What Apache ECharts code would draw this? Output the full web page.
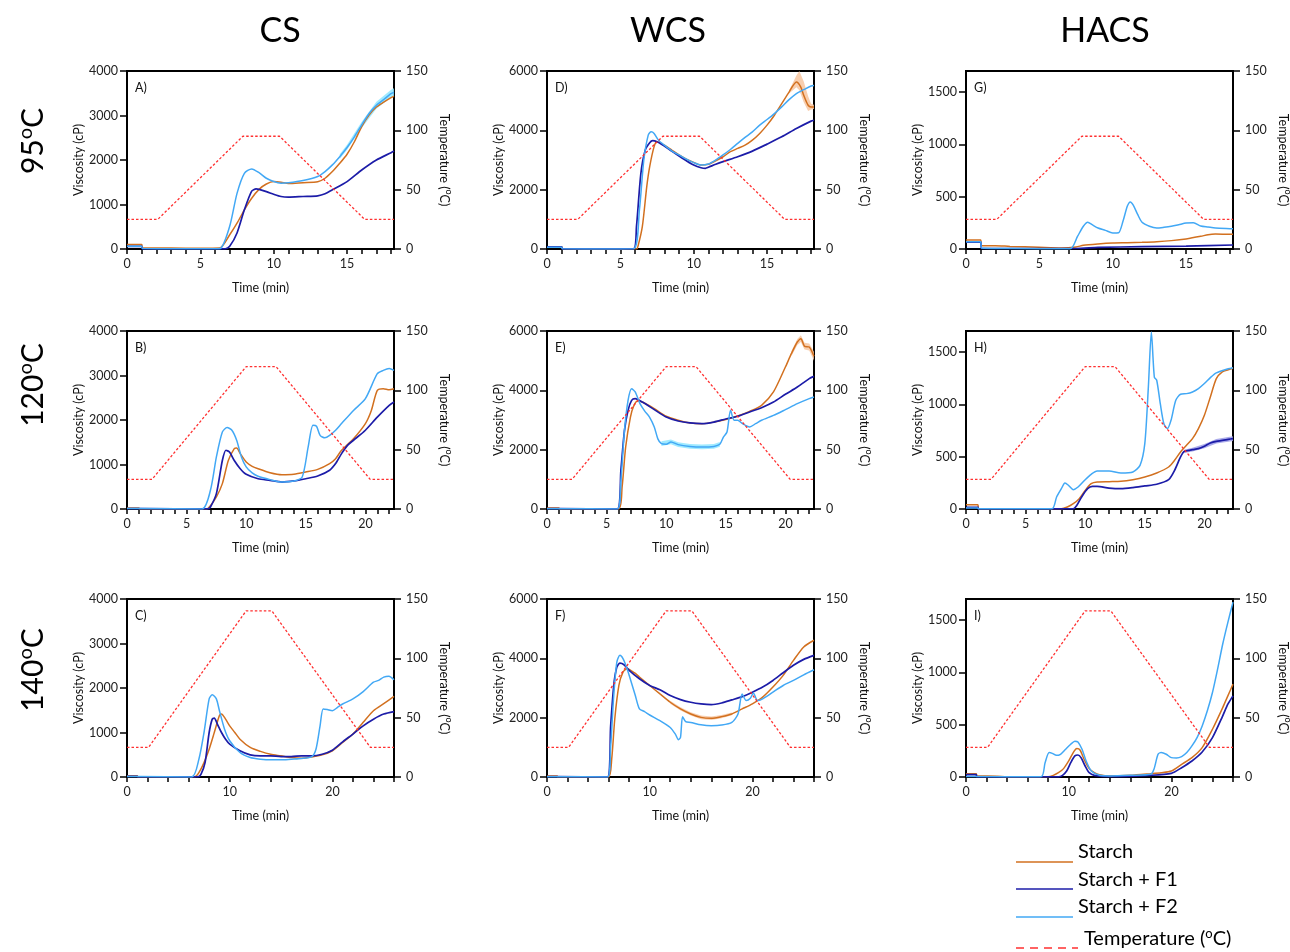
<!DOCTYPE html>
<html>
<head>
<meta charset="utf-8">
<title>Pasting profiles</title>
<script src="https://cdn.jsdelivr.net/npm/echarts@6/dist/echarts.min.js"></script>
<style>
  html, body { margin: 0; padding: 0; background: #fff; }
  #chart { width: 1290px; height: 952px; }
</style>
</head>
<body>
<div id="chart"></div>
<script>
// ---- data: [time (min), value] ----
var temp95  = [[0,25],[2.1,25],[7.9,95],[10.4,95],[16.2,25],[18.2,25]];
var temp120 = [[0,25],[2.1,25],[10,120],[12.5,120],[20.4,25],[22.4,25]];
var temp140 = [[0,25],[2.1,25],[11.6,140],[14.1,140],[23.7,25],[26,25]];

// CS 95
var starchA = [[0,100],[1,100],[1.05,25],[3,20],[5,15],[6.3,20],[7,320],[7.5,580],[8,880],[8.5,1140],[9,1340],[9.5,1460],[10,1515],[10.5,1500],[11,1470],[12,1490],[13,1510],[13.5,1590],[14,1740],[14.5,1925],[15,2130],[15.5,2410],[16,2750],[16.5,3010],[17,3190],[17.5,3300],[18,3400],[18.2,3430]];
var f1A = [[0,60],[1,60],[1.05,5],[4,3],[6.7,5],[7,60],[7.5,360],[8,880],[8.5,1300],[8.8,1350],[9,1340],[9.5,1290],[10,1230],[10.5,1180],[11,1165],[12,1180],[13,1195],[13.5,1240],[14,1330],[15,1515],[16,1775],[17,2000],[18,2165],[18.2,2200]];
var f2A = [[0,60],[1,60],[1.05,10],[3,8],[6,5],[6.4,20],[7,510],[7.5,1250],[8,1700],[8.5,1800],[9,1715],[9.5,1590],[10,1515],[10.5,1480],[11,1490],[12,1540],[13,1630],[13.5,1740],[14,1890],[14.5,2075],[15,2280],[15.5,2520],[16,2790],[16.5,3045],[17,3230],[17.5,3360],[18,3490],[18.2,3520]];
// CS 120
var starchB = [[0,20],[1,20],[1.05,2],[6.7,2],[7,75],[7.5,270],[8,570],[8.5,1090],[9,1355],[9.2,1370],[9.5,1245],[10,1055],[10.5,960],[11,905],[12,815],[13,770],[14,780],[15,830],[16,890],[17,1020],[17.5,1130],[18,1320],[19,1580],[20,1920],[20.5,2215],[21,2665],[21.5,2705],[22,2680],[22.4,2700]];
var f1B = [[0,10],[1,10],[1.05,2],[6.8,2],[7,45],[7.5,345],[8,1090],[8.3,1320],[8.6,1280],[9,1090],[9.5,905],[10,780],[11,680],[12,645],[13,605],[14,630],[15,680],[16,740],[17,870],[17.5,1020],[18,1245],[18.5,1430],[19,1545],[20,1770],[21,2065],[22,2330],[22.4,2405]];
var f2B = [[0,10],[1,10],[1.05,2],[6.3,2],[7,420],[7.5,1170],[8,1730],[8.4,1830],[8.8,1770],[9.2,1545],[9.6,1170],[10,945],[10.5,810],[11,735],[12,660],[13,605],[14,630],[14.7,720],[15.2,1395],[15.6,1880],[15.9,1860],[16.2,1655],[16.6,1600],[17,1655],[17.5,1770],[18,1920],[19,2215],[20,2480],[21,3040],[21.5,3115],[22,3155],[22.4,3115]];
// CS 140
var starchC = [[0,30],[1,30],[1.05,8],[4,5],[6.6,5],[7,98],[7.5,324],[8,625],[8.5,1000],[9,1380],[9.2,1415],[9.6,1300],[10,1150],[10.5,1000],[11,850],[12,665],[13,575],[14,510],[15,475],[16,437],[17,420],[18,450],[19,497],[20,590],[21,775],[22,965],[23,1230],[24,1490],[25,1650],[26,1810]];
var f1C = [[0,15],[1,15],[1.05,2],[6.9,2],[7.2,60],[7.6,324],[8,1000],[8.3,1300],[8.5,1325],[8.8,1190],[9.2,1000],[9.6,850],[10,740],[11,590],[12,497],[13,475],[14,475],[15,460],[16,460],[17,475],[18,475],[19,512],[20,603],[21,790],[22,965],[23,1150],[24,1300],[25,1415],[26,1470]];
var f2C = [[0,10],[1,10],[1.05,2],[6.3,2],[7,400],[7.5,1000],[8,1755],[8.3,1850],[8.7,1755],[9,1490],[9.5,1075],[10,815],[11,550],[12,437],[13,400],[14,385],[15,385],[16,400],[17,415],[18,460],[18.4,625],[18.8,1150],[19.1,1530],[19.5,1515],[20,1490],[20.5,1565],[21,1640],[22,1755],[23,1920],[24,2130],[24.5,2170],[25,2245],[25.5,2265],[26,2185]];
// WCS 95
var starchD = [[0,80],[1,80],[1.05,5],[4,3],[6.1,5],[6.2,90],[6.5,760],[6.8,2100],[7,2775],[7.3,3450],[7.5,3615],[8,3500],[8.5,3335],[9,3170],[9.5,3030],[10,2920],[10.5,2830],[11,2855],[11.5,2975],[12,3110],[12.5,3280],[13,3390],[13.5,3500],[14,3670],[14.5,3895],[15,4175],[15.5,4510],[16,4900],[16.5,5290],[17,5630],[17.3,5460],[17.5,5180],[17.8,4845],[18,4790],[18.2,4790]];
var f1D = [[0,70],[1,70],[1.05,5],[4,3],[5.9,5],[6.1,760],[6.4,2550],[6.7,3335],[7,3580],[7.2,3650],[7.5,3615],[8,3470],[8.5,3300],[9,3135],[9.5,2975],[10,2830],[10.5,2740],[10.8,2720],[11,2755],[11.5,2855],[12,2945],[13,3110],[14,3300],[15,3535],[16,3780],[17,4060],[18,4310],[18.2,4340]];
var f2D = [[0,60],[1,60],[1.05,5],[4,3],[5.9,5],[6.3,1320],[6.6,3000],[6.9,3840],[7.1,3950],[7.3,3895],[7.6,3670],[8,3500],[8.5,3310],[9,3170],[9.5,3030],[10,2910],[10.5,2830],[11,2865],[11.5,3000],[12,3170],[12.5,3355],[13,3560],[13.5,3760],[14,3950],[14.5,4175],[15,4365],[15.5,4565],[16,4790],[16.5,5035],[17,5240],[17.5,5370],[18,5495],[18.2,5510]];
// WCS 120
var starchE = [[0,30],[1,30],[1.05,2],[6,2],[6.3,740],[6.6,2090],[7,3100],[7.3,3495],[7.6,3640],[8,3605],[9,3380],[10,3125],[11,2990],[12,2900],[13,2875],[14,2930],[15,3020],[16,3135],[17,3290],[18,3495],[19,3945],[20,4785],[20.5,5235],[21,5630],[21.3,5740],[21.6,5485],[22,5460],[22.4,5150]];
var f1E = [[0,10],[1,10],[1.05,2],[5.9,2],[6.2,1305],[6.5,2650],[6.8,3325],[7.1,3660],[7.4,3720],[8,3605],[9,3350],[10,3100],[11,2965],[12,2900],[13,2875],[14,2930],[15,3035],[16,3125],[17,3270],[18,3415],[19,3605],[20,3865],[21,4110],[22,4395],[22.4,4470]];
var f2E = [[0,10],[1,10],[1.05,2],[5.9,2],[6.2,965],[6.5,2650],[6.8,3660],[7.1,4055],[7.4,3945],[7.8,3550],[8.2,3300],[8.6,3100],[9,2765],[9.3,2365],[9.6,2200],[10,2180],[10.4,2260],[11,2170],[12,2110],[13,2090],[14,2110],[14.5,2180],[14.8,2425],[15.1,2595],[15.4,3325],[15.7,2990],[16,2990],[16.4,2875],[17,2765],[17.5,2875],[18,2990],[19,3155],[20,3350],[21,3550],[22,3720],[22.4,3775]];
// WCS 140
var starchF = [[0,30],[1,30],[1.05,5],[4.5,3],[6,3],[6.3,600],[6.6,1955],[7,3085],[7.4,3535],[7.8,3650],[8.5,3515],[9,3370],[10,3085],[11,2800],[12,2520],[13,2295],[14,2125],[15,2010],[16,1980],[17,2035],[18,2125],[19,2295],[20,2465],[21,2690],[22,3030],[23,3425],[24,3930],[25,4385],[26,4610]];
var f1F = [[0,10],[1,10],[1.05,2],[5.9,2],[6.2,1730],[6.5,3085],[6.8,3705],[7.1,3840],[7.5,3785],[8,3595],[9,3310],[10,3085],[11,2940],[12,2745],[13,2610],[14,2520],[15,2465],[16,2440],[17,2495],[18,2600],[19,2710],[20,2860],[21,3030],[22,3255],[23,3515],[24,3765],[25,3965],[26,4100]];
var f2F = [[0,10],[1,10],[1.05,2],[5.9,2],[6.2,1050],[6.5,2745],[6.8,3875],[7.1,4100],[7.4,3990],[7.8,3650],[8.2,3200],[8.6,2745],[9,2295],[9.5,2205],[10,2090],[11,1900],[12,1670],[12.5,1445],[12.8,1255],[13,1335],[13.2,2030],[13.5,1865],[14,1840],[15,1760],[16,1730],[17,1750],[18,1840],[18.6,2125],[19,2800],[19.4,2575],[19.8,2655],[20.1,2835],[20.5,2575],[21,2635],[22,2860],[23,3085],[24,3255],[25,3445],[26,3615]];
// HACS 95
var starchG = [[0,85],[1,85],[1.05,30],[2,32],[3,25],[5,16],[6.5,10],[7.5,19],[8,35],[9,48],[10,57],[11,60],[12,64],[13,70],[14,80],[15,96],[16,121],[16.5,137],[17,143],[18,140],[18.2,140]];
var f1G = [[0,65],[1,65],[1.05,5],[7.5,5],[9,15],[12,22],[15,28],[18.2,38]];
var f2G = [[0,70],[1,70],[1.05,10],[3,5],[7.1,2],[7.6,120],[8,217],[8.3,255],[8.6,232],[9,200],[9.5,178],[10,153],[10.4,155],[10.7,264],[11,410],[11.2,450],[11.4,420],[11.7,330],[12,255],[12.5,217],[13,200],[13.5,207],[14,217],[14.5,232],[15,248],[15.5,250],[16,220],[16.5,210],[17,200],[18,194],[18.2,193]];
// HACS 120
var starchH = [[0,40],[1,40],[1.05,2],[8,2],[8.5,19],[9,51],[9.5,99],[10,178],[10.5,242],[11,258],[12,261],[13,264],[14,280],[15,306],[16,344],[17,401],[17.5,465],[18,545],[18.5,608],[19,672],[19.5,768],[20,895],[20.5,1070],[21,1245],[21.5,1310],[22,1330],[22.4,1345]];
var f1H = [[0,15],[1,15],[1.05,2],[9,2],[9.3,35],[9.7,115],[10.2,194],[10.6,217],[11,217],[12,200],[13,194],[14,204],[15,220],[16,236],[17,280],[17.5,369],[18,497],[18.3,551],[18.7,560],[19,567],[19.5,576],[20,599],[20.5,630],[21,646],[22,665],[22.4,672]];
var f2H = [[0,10],[1,10],[1.05,2],[7.2,2],[7.6,115],[8,194],[8.3,248],[8.6,226],[9,185],[9.4,210],[10,280],[10.5,331],[11,363],[12,363],[13,344],[14,354],[14.6,417],[15,624],[15.3,1166],[15.55,1690],[15.8,1260],[16,1230],[16.3,1006],[16.6,815],[16.9,768],[17.2,847],[17.6,1038],[18,1096],[18.5,1102],[19,1118],[19.5,1150],[20,1198],[20.5,1255],[21,1300],[22,1340],[22.4,1350]];
// HACS 140
var starchI = [[0,32],[1,32],[1.05,10],[3,8],[4,2],[8,2],[8.5,16],[9,41],[9.5,80],[10,153],[10.5,242],[10.8,271],[11.1,258],[11.5,169],[12,80],[12.5,41],[13,22],[14,10],[16,16],[18,32],[19,41],[20,57],[21,121],[22,185],[23,281],[24,456],[25,663],[25.5,775],[26,887]];
var f1I = [[0,22],[1,22],[1.05,2],[9,2],[9.4,16],[9.8,57],[10.2,137],[10.6,201],[10.9,210],[11.2,185],[11.6,105],[12,41],[12.5,16],[14,3],[18,16],[20,35],[21,89],[22,153],[23,239],[24,376],[25,584],[25.5,695],[26,775]];
var f2I = [[0,5],[7.3,2],[7.7,137],[8.1,233],[8.4,226],[8.8,207],[9.2,217],[9.7,265],[10.2,313],[10.6,341],[10.9,335],[11.3,265],[11.7,153],[12.2,57],[13,16],[14,10],[16,16],[18,26],[18.3,73],[18.7,217],[19,233],[19.5,217],[20,185],[20.5,182],[21,195],[21.5,233],[22,297],[22.5,376],[23,488],[23.5,632],[24,807],[24.5,1030],[25,1270],[25.5,1477],[26,1670]];

// error bands: [time, low, high]
var bandA = [[14.5,2020,2130],[15,2230,2340],[16,2720,2860],[17,3150,3310],[18,3410,3580],[18.2,3430,3610]];
var bandD = [[16.5,5240,5340],[17,5450,5850],[17.2,5350,6000],[17.5,4950,5650],[17.8,4650,5150],[18,4700,4900],[18.2,4720,4860]];
var bandE = [[20.5,5150,5320],[21,5530,5730],[21.3,5630,5860],[21.6,5380,5600],[22,5340,5580],[22.4,5000,5300]];
var bandE2 = [[9.6,2120,2280],[10.4,2180,2340],[11,2090,2250],[12,2030,2190],[13,2010,2170],[14,2030,2190],[14.5,2100,2260]];
var bandF = [[12,2470,2570],[13,2240,2350],[14,2070,2180],[15,1950,2070],[16,1920,2040],[17,1980,2090],[18,2080,2170]];
var bandH = [[18.3,535,565],[19,550,585],[20,580,620],[21,625,668],[22,643,688],[22.4,650,695]];

// axis ranges and tick labels
var colTitles = ['CS', 'WCS', 'HACS'];
var rowTitles = ['95', '120', '140'];
var panelLetters = ['A)', 'D)', 'G)', 'B)', 'E)', 'H)', 'C)', 'F)', 'I)'];
var xMax = [18.2, 22.4, 26];
var xTicks = [
  [0,1,2,3,4,5,6,7,8,9,10,11,12,13,14,15,16,17,18],
  [0,1,2,3,4,5,6,7,8,9,10,11,12,13,14,15,16,17,18,19,20,21,22],
  [0,2,4,6,8,10,12,14,16,18,20,22,24,26]
];
var xLabels = [[0,5,10,15],[0,5,10,15,20],[0,10,20]];
var yMax = [4000, 6000, 1700];
var yLabels = [[0,1000,2000,3000,4000],[0,2000,4000,6000],[0,500,1000,1500]];
var tLabels = [0, 50, 100, 150];

(function() {
  var chart = echarts.init(document.getElementById('chart'));
  var font = 'Lato';
  var cOrange = '#d2701f', cDark = '#1c1ca8', cLight = '#42a8f5', cRed = '#ff3030';

  var colLeft = [127, 547, 966];
  var rowTop = [71, 331, 599];
  var gw = 267, gh = 178;

  // one entry per panel: [starch, f1, f2, temp, bands]
  var panels = [
    [starchA, f1A, f2A, temp95,  [[bandA, '#8fe6ff']]],
    [starchD, f1D, f2D, temp95,  [[bandD, '#f7c6a0']]],
    [starchG, f1G, f2G, temp95,  []],
    [starchB, f1B, f2B, temp120, []],
    [starchE, f1E, f2E, temp120, [[bandE, '#f7c6a0'], [bandE2, '#8fe6ff']]],
    [starchH, f1H, f2H, temp120, [[bandH, '#9c9ce6']]],
    [starchC, f1C, f2C, temp140, []],
    [starchF, f1F, f2F, temp140, [[bandF, '#f7c6a0']]],
    [starchI, f1I, f2I, temp140, []]
  ];

  var grids = [], xAxes = [], yAxes = [], series = [], graphics = [];
  var axisLine = { show: true, onZero: false, lineStyle: { color: '#000', width: 2 } };
  var plain = function(v) { return String(v); };
  var labelStyle = { color: '#222', fontFamily: font, fontSize: 12.5, formatter: plain };
  var nameStyle = { color: '#111', fontFamily: font, fontSize: 12.5 };

  panels.forEach(function(p, i) {
    var row = Math.floor(i / 3), col = i % 3;
    grids.push({
      left: colLeft[col], top: rowTop[row], width: gw, height: gh,
      show: true, borderColor: '#000', borderWidth: 2, backgroundColor: 'transparent',
      outerBoundsMode: 'none'
    });
    xAxes.push({
      gridIndex: i, type: 'value', min: 0, max: xMax[row],
      axisLine: axisLine,
      axisTick: { show: true, customValues: xTicks[row], length: 5, lineStyle: { color: '#000', width: 1.5 } },
      axisLabel: Object.assign({ customValues: xLabels[row], margin: 8 }, labelStyle),
      splitLine: { show: false },
      name: 'Time (min)', nameLocation: 'middle', nameGap: 32, nameTextStyle: nameStyle
    });
    yAxes[i] = {
      gridIndex: i, type: 'value', position: 'left', min: 0, max: yMax[col],
      axisLine: axisLine,
      axisTick: { show: true, customValues: yLabels[col], length: 7, lineStyle: { color: '#000', width: 1.5 } },
      axisLabel: Object.assign({ customValues: yLabels[col], margin: 9 }, labelStyle),
      splitLine: { show: false },
      name: 'Viscosity (cP)', nameLocation: 'middle', nameGap: 41, nameRotate: 90, nameTextStyle: nameStyle
    };
    yAxes[9 + i] = {
      gridIndex: i, type: 'value', position: 'right', min: 0, max: 150,
      axisLine: axisLine,
      axisTick: { show: true, customValues: tLabels, length: 7, lineStyle: { color: '#000', width: 1.5 } },
      axisLabel: Object.assign({ customValues: tLabels, margin: 12 }, labelStyle),
      splitLine: { show: false },
      name: 'Temperature ({sup|o}C)', nameLocation: 'middle', nameGap: 42, nameRotate: -90,
      nameTextStyle: Object.assign({
        rich: { sup: { fontFamily: font, fontSize: 9, color: '#111', padding: [0, 0, 8, 0] } }
      }, nameStyle)
    };

    // shaded error bands
    p[4].forEach(function(b) {
      var band = b[0], fill = b[1];
      series.push({
        type: 'custom', xAxisIndex: i, yAxisIndex: i, silent: true, z: 1,
        data: band, encode: { x: 0, y: [1, 2] },
        renderItem: function(params, api) {
          if (params.dataIndex !== 0) return null;
          var up = band.map(function(d) { return api.coord([d[0], d[2]]); });
          var lo = band.map(function(d) { return api.coord([d[0], d[1]]); }).reverse();
          return { type: 'polygon', shape: { points: up.concat(lo) }, style: { fill: fill, opacity: 0.85 } };
        }
      });
    });

    function line(name, data, color, width) {
      return {
        type: 'line', name: name, data: data, xAxisIndex: i, yAxisIndex: i,
        symbol: 'none', smooth: 0.25, z: 3,
        lineStyle: { color: color, width: width }, itemStyle: { color: color }
      };
    }
    series.push(line('Starch', p[0], cOrange, 1.5));
    series.push(line('Starch + F1', p[1], cDark, 1.7));
    series.push(line('Starch + F2', p[2], cLight, 1.5));
    series.push({
      type: 'line', name: 'Temperature', data: p[3], xAxisIndex: i, yAxisIndex: 9 + i,
      symbol: 'none', smooth: false, z: 4,
      lineStyle: { color: cRed, width: 1.3, type: [2.5, 2] }, itemStyle: { color: cRed }
    });

    graphics.push({
      type: 'text', x: colLeft[col] + 8, y: rowTop[row] + 17,
      style: { text: panelLetters[i], fontFamily: font, fontSize: 12.5, fill: '#111', verticalAlign: 'middle' }
    });
  });

  // column and row headings
  [280, 668, 1105].forEach(function(x, c) {
    graphics.push({
      type: 'text', x: x, y: 31,
      style: { text: colTitles[c], fontFamily: font, fontSize: 34, fill: '#000', align: 'center', verticalAlign: 'middle' }
    });
  });
  [141, 385, 670].forEach(function(y, r) {
    graphics.push({
      type: 'text', x: 33, y: y, rotation: Math.PI / 2,
      style: {
        text: rowTitles[r] + '{sup|o}C', fontFamily: font, fontSize: 30, fill: '#000',
        align: 'center', verticalAlign: 'middle',
        rich: { sup: { fontFamily: font, fontSize: 20, fill: '#000', padding: [0, 0, 14, 0] } }
      }
    });
  });

  // legend (drawn by hand to match the figure)
  var legendItems = [
    ['Starch', cOrange, 852, 862, null],
    ['Starch + F1', cDark, 880, 889, null],
    ['Starch + F2', cLight, 907, 917, null],
    ['Temperature ({sup|o}C)', cRed, 939, 948, [8, 6]]
  ];
  legendItems.forEach(function(it, k) {
    graphics.push({
      type: 'line', shape: { x1: 1016, y1: it[3], x2: k === 3 ? 1078 : 1073, y2: it[3] },
      style: { stroke: it[1], lineWidth: 1.6, lineDash: it[4] }
    });
    graphics.push({
      type: 'text', x: k === 3 ? 1084 : 1078, y: it[2],
      style: {
        text: it[0], fontFamily: font, fontSize: 20, fill: '#000', verticalAlign: 'middle',
        rich: { sup: { fontFamily: font, fontSize: 13, fill: '#000', padding: [0, 0, 10, 0] } }
      }
    });
  });

  var option = {
    animation: false,
    backgroundColor: '#fff',
    textStyle: { fontFamily: font },
    grid: grids,
    xAxis: xAxes,
    yAxis: yAxes,
    series: series,
    graphic: graphics
  };
  chart.setOption(option);
  window.addEventListener('resize', function() { chart.resize(); });
})();
</script>
</body>
</html>
